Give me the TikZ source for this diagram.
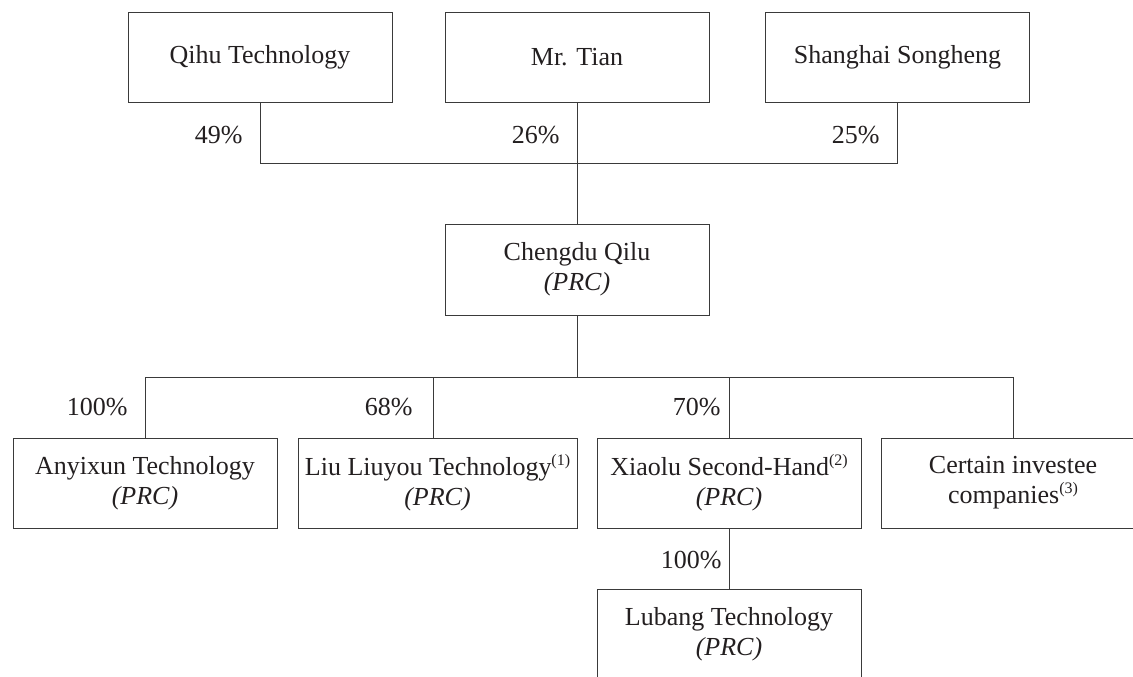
\documentclass[tikz,border=0pt]{standalone}
\usepackage{fontspec}
\setmainfont{Liberation Serif}
\usepackage{xcolor}
\usepackage{tikz}
\usetikzlibrary{positioning}
\definecolor{rule}{HTML}{3A3A3A}
\definecolor{ink}{HTML}{231F20}
\newcommand{\note}[1]{\raisebox{0.85ex}{\fontsize{8}{8}\selectfont(#1)}}

\begin{document}
\begin{tikzpicture}[
    x=0.5pt, y=-0.5pt,
    entity/.style={draw=rule, line width=0.5pt, text=ink, align=center,
                   minimum width=132pt, minimum height=45pt, inner sep=0pt,
                   font=\fontsize{13}{15}\selectfont},
    stake/.style={text=ink, anchor=east, inner sep=0pt,
                  font=\fontsize{13}{15}\selectfont},
    link/.style={draw=rule, line width=0.5pt},
  ]
  \useasboundingbox (0,0) rectangle (1133,676);
  \clip (0,0) rectangle (1133,676);

  % shareholders
  \node[entity] (qihu)     at (260, 57)   {Qihu Technology};
  \node[entity] (tian)     at (577, 57)   {Mr. Tian};
  \node[entity] (songheng) at (897.5, 57) {Shanghai Songheng};

  % Chengdu Qilu
  \node[entity, minimum height=45.5pt] (chengdu) at (577, 269.5)
    {Chengdu Qilu\\\textit{(PRC)}};

  % subsidiaries
  \node[entity] (anyixun)  at (145, 483)   {Anyixun Technology\\\textit{(PRC)}};
  \node[entity, minimum width=139.5pt] (liuyou) at (437.5, 483)
    {Liu Liuyou Technology\note{1}\\\textit{(PRC)}};
  \node[entity] (xiaolu)   at (729, 483)   {Xiaolu Second-Hand\note{2}\\\textit{(PRC)}};
  \node[entity] (investee) at (1013, 483)  {Certain investee\\companies\note{3}};
  \node[entity] (lubang)   at (729, 634)   {Lubang Technology\\\textit{(PRC)}};

  % connectors
  \coordinate (topbar) at (577, 163);
  \coordinate (botbar) at (577, 377);
  \draw[link] (qihu.south) |- (topbar);
  \draw[link] (songheng.south) |- (topbar);
  \draw[link] (tian.south) -- (chengdu.north);
  \draw[link] (chengdu.south) -- (botbar);
  \draw[link] ([xshift=-2pt]liuyou.north) |- (botbar);
  \draw[link] (anyixun.north) |- (botbar) -| (investee.north);
  \draw[link] (xiaolu.north) -- (xiaolu.north |- botbar);
  \draw[link] (xiaolu.south) -- (lubang.north);

  % percentages
  \node[stake] (pqihu)     at (243, 135) {49\%};
  \node[stake] (ptian)     at (560, 135) {26\%};
  \node[stake] (psongheng) at (880, 135) {25\%};
  \node[stake] (panyixun)  at (128, 407) {100\%};
  \node[stake] (pliuyou)   at (413, 407) {68\%};
  \node[stake] (pxiaolu)   at (721, 407) {70\%};
  \node[stake] (plubang)   at (722, 560) {100\%};
\end{tikzpicture}
\end{document}
